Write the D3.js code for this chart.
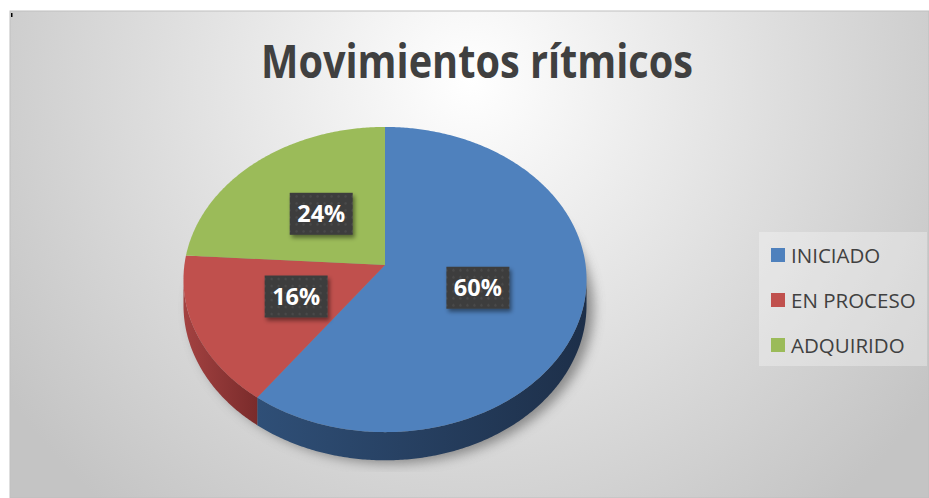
<!DOCTYPE html>
<html>
<head>
<meta charset="utf-8">
<script src="https://cdnjs.cloudflare.com/ajax/libs/d3/7.8.5/d3.min.js"></script>
<style>
  html, body { margin: 0; padding: 0; background: #fff; }
  svg { display: block; }
</style>
</head>
<body>
<div id="chart"></div>
<script>
var title = "Movimientos rítmicos";
var categories = ["INICIADO", "EN PROCESO", "ADQUIRIDO"];
var values = [60, 16, 24];
var colors = ["#4f81bd", "#c0504d", "#9bbb59"];
var sideColors = [["#2f4f77", "#1d2f49"], ["#a34241", "#7a2b2b"], ["#6f8a3b", "#55692d"]];

var W = 929, H = 498;

var svg = d3.select("#chart").append("svg")
    .attr("width", W)
    .attr("height", H);

var defs = svg.append("defs");

// background gradient
var bg = defs.append("radialGradient")
    .attr("id", "bg")
    .attr("gradientUnits", "userSpaceOnUse")
    .attr("cx", 470).attr("cy", 80).attr("r", 560)
    .attr("fx", 470).attr("fy", 80);
bg.append("stop").attr("offset", "0").attr("stop-color", "#ffffff");
bg.append("stop").attr("offset", "0.55").attr("stop-color", "#dedede");
bg.append("stop").attr("offset", "1").attr("stop-color", "#c4c4c4");

// dotted pattern for label boxes
var pat = defs.append("pattern")
    .attr("id", "dots")
    .attr("patternUnits", "userSpaceOnUse")
    .attr("width", 7).attr("height", 7);
pat.append("rect").attr("width", 7).attr("height", 7).attr("fill", "#3c3c3c");
pat.append("circle").attr("cx", 3.5).attr("cy", 3.5).attr("r", 1.2).attr("fill", "#4c4c4c");

var blur = defs.append("filter").attr("id", "blur")
    .attr("x", "-20%").attr("y", "-20%").attr("width", "140%").attr("height", "140%");
blur.append("feGaussianBlur").attr("stdDeviation", 6);

var boxShadow = defs.append("filter").attr("id", "boxshadow")
    .attr("x", "-20%").attr("y", "-20%").attr("width", "150%").attr("height", "160%");
boxShadow.append("feDropShadow")
    .attr("dx", 2).attr("dy", 3).attr("stdDeviation", 2)
    .attr("flood-color", "#000").attr("flood-opacity", 0.45);

defs.append("clipPath").attr("id", "plotclip")
  .append("rect").attr("x", 10).attr("y", 11).attr("width", 919).attr("height", 461);

// chart area
svg.append("rect")
    .attr("x", 10).attr("y", 11)
    .attr("width", W - 10).attr("height", H - 11)
    .attr("fill", "url(#bg)")
    .attr("stroke", "#bfbfbf")
    .attr("stroke-width", 1);

svg.append("rect").attr("x", 11).attr("y", 13).attr("width", 1.5).attr("height", 4).attr("fill", "#000");

// title
svg.append("text")
    .attr("x", 477)
    .attr("y", 78)
    .attr("text-anchor", "middle")
    .attr("font-family", "'Open Sans', sans-serif")
    .attr("font-weight", "bold")
    .attr("font-size", 46)
    .attr("fill", "#404040")
    .attr("textLength", 432)
    .attr("lengthAdjust", "spacingAndGlyphs")
    .text(title);

// perspective pie geometry
var cx = 385, cy = 265, A = 151.2, B = 200.6, c = 0.0953, depth = 25.5;

function proj(f, phi) {
  var v = f * Math.cos(phi), s = f * Math.sin(phi);
  var w = 1 / (1 + c * v);
  return [cx + B * s * w, cy - A * v * w];
}
function projBottom(phi) {
  var p = proj(1, phi);
  var w = 1 / (1 + c * Math.cos(phi));
  return [p[0], p[1] + depth * w];
}
function arcPoints(a0, a1, fn) {
  var n = Math.max(2, Math.ceil(Math.abs(a1 - a0) / 0.01));
  var pts = [];
  for (var i = 0; i <= n; i++) pts.push(fn(a0 + (a1 - a0) * i / n));
  return pts;
}

var pie = d3.pie().sort(null).value(function (d) { return d; });
var arcs = pie(values);
var line = d3.line();

var g = svg.append("g");

// shadow beneath the pie
var shadowPts = arcPoints(0, 2 * Math.PI, function (a) {
  var p = projBottom(a);
  return [p[0] + 7, p[1] + 3];
});
g.append("g").attr("clip-path", "url(#plotclip)")
  .append("path")
    .attr("d", line(shadowPts) + "Z")
    .attr("fill", "#666")
    .attr("opacity", 0.7)
    .attr("filter", "url(#blur)");

// visible side range (front of the disc)
var visL = Math.acos(-c), visR = 2 * Math.PI - Math.acos(-c);

arcs.forEach(function (d, i) {
  var a0 = Math.max(d.startAngle, visL), a1 = Math.min(d.endAngle, visR);
  if (a1 <= a0) return;
  var top = arcPoints(a0, a1, function (a) { return proj(1, a); });
  var bot = arcPoints(a1, a0, projBottom);
  var xs = top.map(function (p) { return p[0]; });
  var gid = "side" + i;
  var grad = defs.append("linearGradient")
      .attr("id", gid)
      .attr("gradientUnits", "userSpaceOnUse")
      .attr("x1", d3.min(xs)).attr("x2", d3.max(xs))
      .attr("y1", 0).attr("y2", 0);
  grad.append("stop").attr("offset", 0).attr("stop-color", sideColors[i][0]);
  grad.append("stop").attr("offset", 1).attr("stop-color", sideColors[i][1]);
  g.append("path")
      .attr("d", line(top.concat(bot)) + "Z")
      .attr("fill", "url(#" + gid + ")");
});

// top faces
arcs.forEach(function (d, i) {
  var pts = [proj(0, 0)].concat(arcPoints(d.startAngle, d.endAngle, function (a) { return proj(1, a); }));
  g.append("path")
      .attr("d", line(pts) + "Z")
      .attr("fill", colors[i]);
});

// labels
var total = d3.sum(values);
arcs.forEach(function (d, i) {
  var mid = (d.startAngle + d.endAngle) / 2;
  var p = proj(0.48, mid);
  var lg = g.append("g").attr("transform", "translate(" + p[0] + "," + p[1] + ")");
  lg.append("rect")
      .attr("x", -31.5).attr("y", -21)
      .attr("width", 63).attr("height", 42)
      .attr("fill", "url(#dots)")
      .attr("filter", "url(#boxshadow)");
  lg.append("text")
      .attr("text-anchor", "middle")
      .attr("y", 8.5)
      .attr("font-family", "'Open Sans', sans-serif")
      .attr("font-weight", "bold")
      .attr("font-size", 23.5)
      .attr("fill", "#ffffff")
      .text(Math.round(d.value / total * 100) + "%");
});

// legend
var legend = svg.append("g");
legend.append("rect")
    .attr("x", 759).attr("y", 232)
    .attr("width", 168).attr("height", 134)
    .attr("fill", "#ffffff")
    .attr("opacity", 0.3);

var rowY = d3.scalePoint().domain(categories).range([255, 345]);

categories.forEach(function (name, i) {
  var y = rowY(name);
  legend.append("rect")
      .attr("x", 771).attr("y", y - 7)
      .attr("width", 14).attr("height", 14)
      .attr("fill", colors[i]);
  legend.append("text")
      .attr("x", 791).attr("y", y + 7.5)
      .attr("font-family", "'Open Sans', sans-serif")
      .attr("font-size", 20.5)
      .attr("fill", "#404040")
      .text(name);
});
</script>
</body>
</html>
